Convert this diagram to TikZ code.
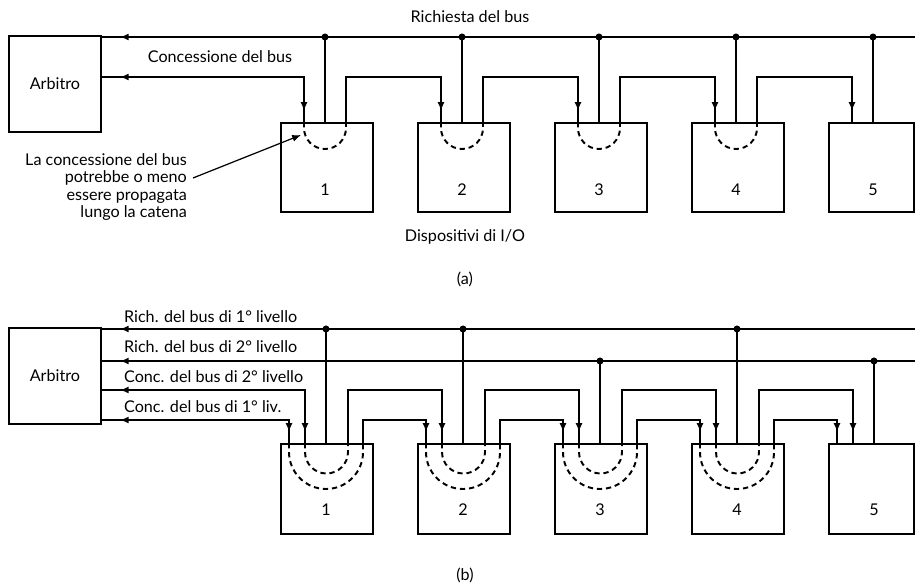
\documentclass[tikz,border=0pt]{standalone}
\usepackage{fontspec}
\setmainfont{Lato}
\usetikzlibrary{positioning, calc, arrows.meta, decorations.markings}

\tikzset{
  devbox/.style={draw, line width=1.1pt, anchor=north west, inner sep=0pt,
    minimum width=1.84cm, minimum height=1.79cm},
  arbbox/.style={draw, line width=1.1pt, anchor=north west, inner sep=0pt,
    minimum width=1.84cm, minimum height=1.92cm, font=\fontsize{9.2}{10}\selectfont},
  wire/.style={line width=1.1pt},
  chainarc/.style={line width=1.1pt, dash pattern=on 3pt off 2.2pt},
  lbl/.style={font=\fontsize{9.2}{10}\selectfont, inner sep=1pt},
  tipin/.style={postaction={decorate, decoration={markings,
    mark=at position -0.22cm with {\arrow{Latex[length=5pt,width=4pt]}}}}},
  tipback/.style={postaction={decorate, decoration={markings,
    mark=at position 0.36cm with {\arrowreversed{Latex[length=5pt,width=4pt]}}}}},
}

\begin{document}
\begin{tikzpicture}[x=0.02cm, y=-0.02cm]
  \useasboundingbox (0,0) rectangle (915,584);

  % ---------------- (a) one level ----------------
  \node[arbbox] (arbA) at (8,35) {Arbitro};
  \coordinate (reqA) at ($(arbA.north east)+(0,2)$);
  \coordinate (reqAend) at (915,37);
  \coordinate (grantA) at ($(arbA.north east)+(0,42)$);

  % I/O devices
  \foreach \i in {1,...,4}
    \node[devbox] (a\i) at ({280+137*(\i-1)},122) {};
  \node[devbox, minimum width=1.7cm] (a5) at (828,122) {};
  \foreach \i in {1,...,5} {
    \node[lbl] (na\i) at ($(a\i.south west)+(45,-24)$) {\i};
    \coordinate (ain\i) at ($(a\i.north west)+(24,0)$);
    \coordinate (atap\i) at ($(a\i.north west)+(45,0)$);
    \coordinate (aout\i) at ($(a\i.north west)+(66,0)$);
  }

  % request bus and taps
  \draw[wire, tipback] (reqA) -- (reqAend);
  \foreach \i in {1,...,5} {
    \draw[wire] (atap\i |- reqA) -- (atap\i);
    \fill (atap\i |- reqA) circle[radius=2pt];
  }

  % grant chain
  \draw[wire, tipback, tipin] (grantA) -| (ain1);
  \foreach \i/\j in {1/2,2/3,3/4,4/5}
    \draw[wire, tipin] (aout\i) -- (aout\i |- grantA) -| (ain\j);
  \foreach \i in {1,...,4}
    \draw[chainarc] (ain\i) -- ++(0,6) arc[start angle=180, end angle=0, radius=21] -- (aout\i);

  % labels
  \node[lbl] (reqAlbl) at (470,17) {Richiesta del bus};
  \node[lbl] (grantAlbl) at (220,57) {Concessione del bus};
  \node[lbl, align=right, anchor=east] (noteA) at (189,187)
    {La concessione del bus\\potrebbe o meno\\essere propagata\\lungo la catena};
  \coordinate (ahint) at ($(a1.north west)+(21,13)$);
  \draw[line width=0.7pt, -{Latex[length=5pt,width=4pt]}] ($(noteA.east)+(4,-9)$) -- (ahint);
  \node[lbl] (devAlbl) at (465,237) {Dispositivi di I/O};
  \node[lbl] (capA) at (465,279) {(a)};

  % ---------------- (b) two levels ----------------
  \node[arbbox] (arbB) at (8,327) {Arbitro};
  \coordinate (rq1) at ($(arbB.north east)+(0,2)$);
  \coordinate (rq2) at ($(arbB.north east)+(0,34)$);
  \coordinate (gr2) at ($(arbB.north east)+(0,63)$);
  \coordinate (gr1) at ($(arbB.north east)+(0,93)$);

  % I/O devices
  \foreach \i in {1,...,4}
    \node[devbox, minimum height=1.8cm] (b\i) at ({280+137*(\i-1)},443) {};
  \node[devbox, minimum height=1.8cm, minimum width=1.7cm] (b5) at (828,443) {};
  \foreach \i in {1,...,5} {
    \node[lbl] (nb\i) at ($(b\i.south west)+(46,-25)$) {\i};
    \coordinate (boin\i) at ($(b\i.north west)+(9,0)$);
    \coordinate (biin\i) at ($(b\i.north west)+(25,0)$);
    \coordinate (btap\i) at ($(b\i.north west)+(46,0)$);
    \coordinate (biout\i) at ($(b\i.north west)+(68,0)$);
    \coordinate (boout\i) at ($(b\i.north west)+(83,0)$);
  }

  % request lines and taps
  \draw[wire, tipback] (rq1) -- (rq1 -| reqAend);
  \draw[wire, tipback] (rq2) -- (rq2 -| reqAend);
  \foreach \i/\r in {1/rq1,2/rq1,3/rq2,4/rq1,5/rq2} {
    \draw[wire] (btap\i |- \r) -- (btap\i);
    \fill (btap\i |- \r) circle[radius=2pt];
  }

  % grant chains
  \draw[wire, tipback, tipin] (gr2) -| (biin1);
  \draw[wire, tipback, tipin] (gr1) -| (boin1);
  \foreach \i/\j in {1/2,2/3,3/4,4/5} {
    \draw[wire, tipin] (biout\i) -- (biout\i |- gr2) -| (biin\j);
    \draw[wire, tipin] (boout\i) -- (boout\i |- gr1) -| (boin\j);
  }
  \foreach \i in {1,...,4} {
    \draw[chainarc] (biin\i) -- ++(0,9) arc[start angle=180, end angle=0, radius=21.5] -- (biout\i);
    \draw[chainarc] (boin\i) -- ++(0,9) arc[start angle=180, end angle=0, radius=37] -- (boout\i);
  }

  % labels
  \node[lbl, anchor=west] (lr1) at (122,317) {Rich. del bus di 1° livello};
  \node[lbl, anchor=west] (lr2) at (122,347) {Rich. del bus di 2° livello};
  \node[lbl, anchor=west] (lg2) at (122,377) {Conc. del bus di 2° livello};
  \node[lbl, anchor=west] (lg1) at (122,407) {Conc. del bus di 1° liv.};
  \node[lbl] (capB) at (465,575) {(b)};
\end{tikzpicture}
\end{document}
